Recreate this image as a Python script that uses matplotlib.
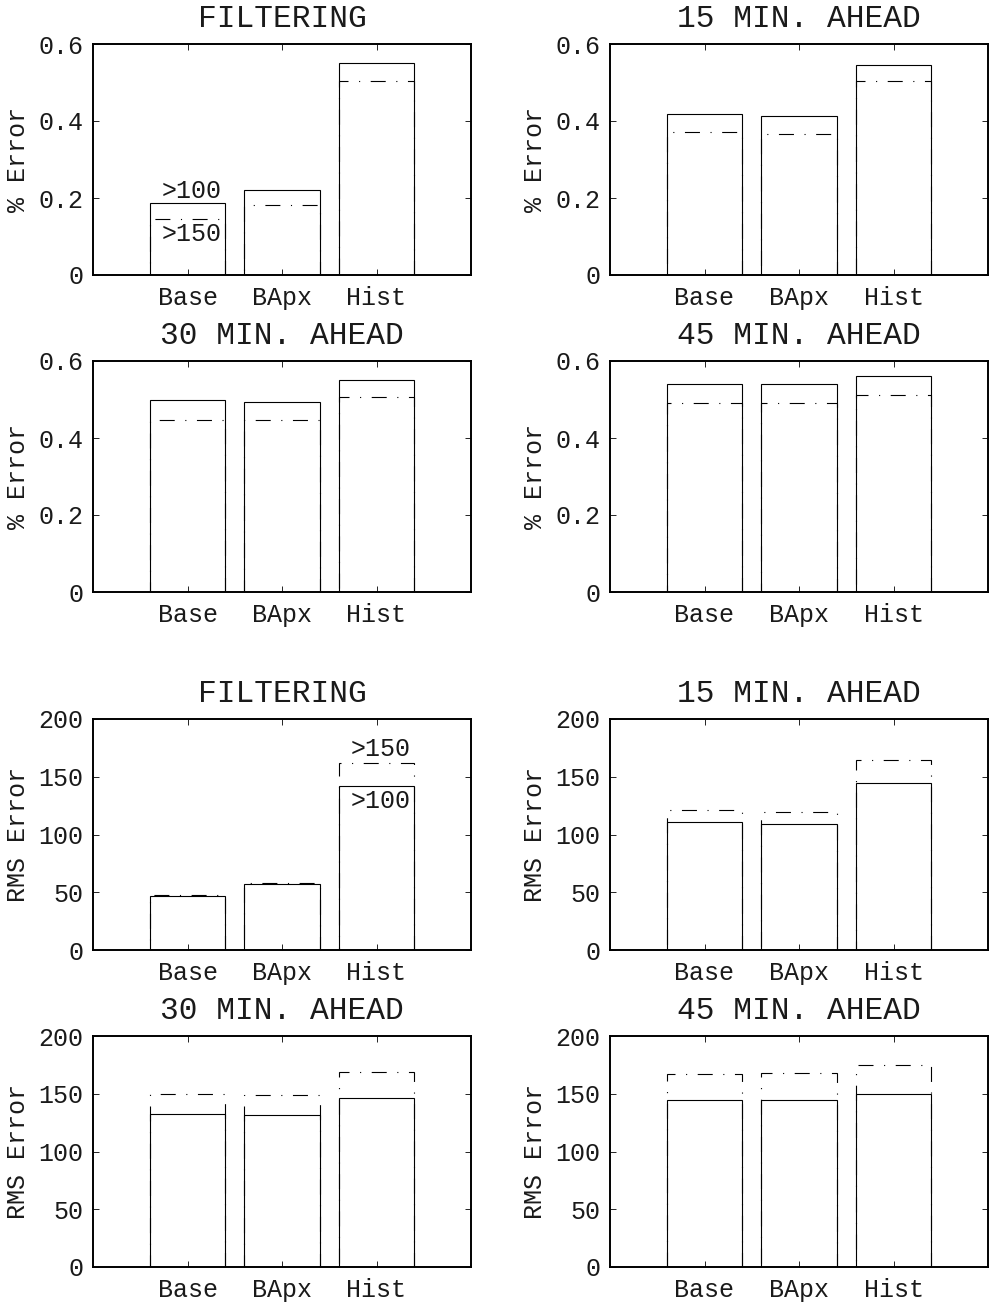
import matplotlib
matplotlib.use("Agg")
import matplotlib.pyplot as plt
import numpy as np

# --------------------------------------------------------------------------- #
# data (4 horizons x 3 methods)
# --------------------------------------------------------------------------- #
categories = ["Base", "BApx", "Hist"]
titles = ["FILTERING", "15 MIN. AHEAD", "30 MIN. AHEAD", "45 MIN. AHEAD"]

pct_gt100 = [[0.186, 0.222, 0.550],
             [0.419, 0.412, 0.546],
             [0.499, 0.494, 0.551],
             [0.541, 0.540, 0.560]]
pct_gt150 = [[0.145, 0.182, 0.505],
             [0.372, 0.366, 0.504],
             [0.448, 0.448, 0.506],
             [0.490, 0.490, 0.512]]

rms_gt100 = [[46.9, 57.0, 141.8],
             [110.9, 108.8, 144.4],
             [132.8, 131.6, 146.6],
             [144.9, 144.6, 149.8]]
rms_gt150 = [[47.5, 58.2, 162.1],
             [121.3, 119.2, 164.4],
             [149.8, 149.2, 168.5],
             [167.4, 167.7, 174.9]]

pct_ticks = [0, 0.2, 0.4, 0.6]
pct_ticklabels = ["0", "0.2", "0.4", "0.6"]
rms_ticks = [0, 50, 100, 150, 200]
rms_ticklabels = ["0", "50", "100", "150", "200"]

FONT = "Liberation Mono"
plt.rcParams["font.family"] = [FONT, "DejaVu Sans Mono"]
# long dash, wide gap, dot, wide gap (scaled by the 0.8 linewidth)
DASHDOT = (0, (13.5, 9.5, 1, 9.5))
INK = "#1a1a1a"

fig = plt.figure(figsize=(9.94, 13.04), dpi=100)

W, H = 994.0, 1304.0
col_left = [93, 610]
col_width = 378
row_top = [44, 361, 719, 1036]
row_height = 231


def make_axes(row, col):
    x0 = col_left[col] / W
    y0 = 1 - (row_top[row] + row_height) / H
    return fig.add_axes([x0, y0, col_width / W, row_height / H])


def draw_panel(ax, title, v100, v150, ylim, ticks, ticklabels, ylabel):
    x = np.arange(1, len(categories) + 1)
    ax.bar(x, v100, width=0.8, fill=False, edgecolor="black", linewidth=0.8)
    ax.bar(x, v150, width=0.8, fill=False, edgecolor="black", linewidth=0.8,
           linestyle=DASHDOT)
    ax.set_xlim(0, 4)
    ax.set_ylim(*ylim)
    ax.set_xticks(x)
    ax.set_xticklabels(categories)
    ax.set_yticks(ticks)
    ax.set_yticklabels(ticklabels)
    ax.tick_params(direction="in", length=4, width=0.6, labelsize=18,
                   top=True, right=True, colors="black", labelcolor=INK)
    ax.tick_params(axis="y", pad=7)
    ax.tick_params(axis="x", pad=8)
    for s in ax.spines.values():
        s.set_linewidth(1.4)
    ax.set_title(title, fontsize=22.5, pad=12, color=INK)
    ax.set_ylabel(ylabel, fontsize=18, labelpad=6, color=INK)


def note(ax, text, x, y, dy):
    ax.annotate(text, xy=(x, y), xytext=(-3, dy), textcoords="offset points",
                ha="right", va="baseline", fontsize=18, color=INK)


for i, title in enumerate(titles):
    r, c = divmod(i, 2)
    ax = make_axes(r, c)
    draw_panel(ax, title, pct_gt100[i], pct_gt150[i], (0, 0.6),
               pct_ticks, pct_ticklabels, "% Error")
    if i == 0:
        note(ax, ">100", 1.4, pct_gt100[0][0], 3.6)
        note(ax, ">150", 1.4, pct_gt150[0][0], -15.6)

for i, title in enumerate(titles):
    r, c = divmod(i, 2)
    ax = make_axes(r + 2, c)
    draw_panel(ax, title, rms_gt100[i], rms_gt150[i], (0, 200),
               rms_ticks, rms_ticklabels, "RMS Error")
    if i == 0:
        note(ax, ">150", 3.4, rms_gt150[0][2], 4.8)
        note(ax, ">100", 3.4, rms_gt100[0][2], -16)

fig.savefig("out.png", dpi=100, facecolor="white")
